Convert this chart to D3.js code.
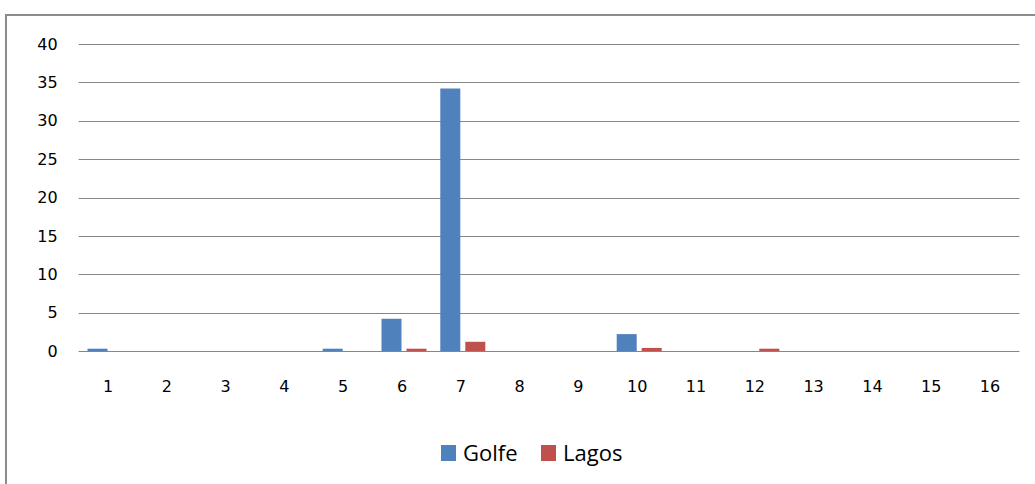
<!DOCTYPE html>
<html>
<head>
<meta charset="utf-8">
<script src="https://cdn.jsdelivr.net/npm/d3@7"></script>
<style>
  body { margin: 0; background: #fff; }
  svg { display: block; }
</style>
</head>
<body>
<div id="chart"></div>
<script>
// chart data
const categories = ['1', '2', '3', '4', '5', '6', '7', '8', '9', '10', '11', '12', '13', '14', '15', '16'];
const golfe = [0.3, 0, 0, 0, 0.3, 4.2, 34.2, 0, 0, 2.2, 0, 0, 0, 0, 0, 0];
const lagos = [0, 0, 0, 0, 0, 0.3, 1.2, 0, 0, 0.4, 0, 0.3, 0, 0, 0, 0];
const yTicks = [0, 5, 10, 15, 20, 25, 30, 35, 40];
const seriesNames = ['Golfe', 'Lagos'];

const colors = ['#4F81BD', '#C0504D'];
const gridColor = '#868686';

const width = 1035;
const height = 484;

const svg = d3.select('#chart')
  .append('svg')
  .attr('width', width)
  .attr('height', height);

// outer frame (right and bottom edges run off the picture)
svg.append('rect')
  .attr('x', 6)
  .attr('y', 15)
  .attr('width', 1040)
  .attr('height', 480)
  .attr('fill', 'none')
  .attr('stroke', '#8c8c8c')
  .attr('stroke-width', 2);

const x = d3.scaleBand()
  .domain(categories)
  .range([78.6, 78.6 + 58.8 * categories.length]);

const y = d3.scaleLinear()
  .domain([0, 40])
  .range([351, 44]);

const inner = d3.scaleBand()
  .domain(seriesNames)
  .range([-22.5, 22.5])
  .paddingInner(0.2);

// gridlines
svg.append('g')
  .selectAll('line')
  .data(yTicks)
  .join('line')
  .attr('x1', x.range()[0])
  .attr('x2', x.range()[1])
  .attr('y1', (d) => Math.round(y(d)) + 0.5)
  .attr('y2', (d) => Math.round(y(d)) + 0.5)
  .attr('stroke', gridColor)
  .attr('stroke-width', 1);

// y axis labels
const yAxis = svg.append('g')
  .attr('transform', `translate(${x.range()[0]},0)`)
  .call(d3.axisLeft(y).tickValues(yTicks).tickSize(0).tickPadding(21));
yAxis.select('.domain').remove();
yAxis.selectAll('text')
  .attr('font-family', 'DejaVu Sans, sans-serif')
  .attr('font-size', 16)
  .attr('fill', '#000');

// x axis labels
const xAxis = svg.append('g')
  .attr('transform', 'translate(0,351)')
  .call(d3.axisBottom(x).tickSize(0).tickPadding(30));
xAxis.select('.domain').remove();
xAxis.selectAll('text')
  .attr('font-family', 'DejaVu Sans, sans-serif')
  .attr('font-size', 16)
  .attr('fill', '#000');

// bars
const seriesData = [golfe, lagos];
seriesData.forEach((vals, si) => {
  svg.append('g')
    .attr('fill', colors[si])
    .selectAll('rect')
    .data(vals.map((v, i) => ({ cat: categories[i], v })))
    .join('rect')
    .attr('x', (d) => x(d.cat) + x.bandwidth() / 2 + 2 + inner(seriesNames[si]))
    .attr('y', (d) => y(d.v))
    .attr('width', inner.bandwidth())
    .attr('height', (d) => y(0) - y(d.v));
});

// legend
const legend = svg.append('g')
  .attr('transform', 'translate(441,445)');
const legendX = [0, 100];
seriesNames.forEach((name, i) => {
  legend.append('rect')
    .attr('x', legendX[i])
    .attr('y', 0)
    .attr('width', 15)
    .attr('height', 16)
    .attr('fill', colors[i]);
  legend.append('text')
    .attr('x', legendX[i] + 22)
    .attr('y', 16)
    .attr('font-family', 'Open Sans, sans-serif')
    .attr('font-size', 22)
    .attr('fill', '#000')
    .text(name);
});
</script>
</body>
</html>
